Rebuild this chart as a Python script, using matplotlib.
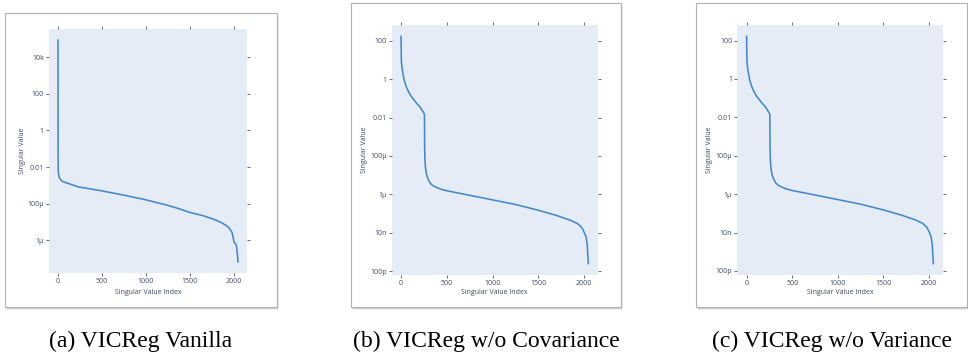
import numpy as np
import matplotlib.pyplot as plt
from matplotlib.patches import Rectangle
from matplotlib.ticker import FixedLocator, FuncFormatter

# ---------------------------------------------------------------- data
vanilla_idx = [0, 1, 3, 8, 20, 45, 100, 233, 480, 750, 990, 1250, 1380, 1500, 1650,
               1760, 1850, 1910, 1950, 1980, 2002, 2015, 2028, 2035, 2043, 2047]
vanilla_sv = [8.8e4, 0.05, 0.006, 0.0035, 0.0024, 0.0017, 0.00135, 8.2e-4, 5.2e-4, 2.9e-4,
              1.66e-4, 8e-5, 5.2e-5, 3.3e-5, 2.2e-5, 1.46e-5, 9.6e-6, 6.5e-6, 4.5e-6, 2.6e-6,
              8e-7, 6.5e-7, 5.5e-7, 3e-7, 1.2e-7, 6.5e-8]

nocov_idx = [0, 1, 3, 6, 12, 20, 33, 55, 80, 105, 135, 170, 208, 235, 250, 255, 256, 257,
             258, 262, 268, 280, 300, 320, 345, 380, 430, 499, 750, 1009, 1250, 1501, 1700,
             1847, 1930, 1975, 2000, 2022, 2035, 2040, 2047]
nocov_sv = [168, 40, 10, 6, 3.5, 2, 0.92, 0.42, 0.23, 0.14, 0.091, 0.055, 0.035, 0.022,
            0.017, 0.0145, 0.01, 0.001, 2e-4, 5e-5, 2.2e-5, 1e-5, 5.5e-6, 3.8e-6, 2.9e-6,
            2.4e-6, 1.9e-6, 1.55e-6, 9e-7, 5.1e-7, 3e-7, 1.5e-7, 8e-8, 4.6e-8, 3e-8, 1.9e-8,
            1.1e-8, 6.2e-9, 2.5e-9, 8.5e-10, 2.5e-10]

novar_idx = [0, 1, 3, 6, 12, 20, 33, 55, 80, 105, 135, 170, 208, 235, 250, 254, 255, 256,
             257, 261, 267, 279, 300, 320, 345, 380, 430, 499, 750, 1009, 1250, 1501, 1700,
             1847, 1930, 1975, 2000, 2022, 2035, 2040, 2047]
novar_sv = [165, 40, 10, 6, 3.4, 2, 0.9, 0.41, 0.22, 0.135, 0.088, 0.054, 0.034, 0.021,
            0.016, 0.014, 0.01, 0.001, 2e-4, 5e-5, 2.2e-5, 1e-5, 5.5e-6, 3.8e-6, 2.9e-6,
            2.4e-6, 1.9e-6, 1.55e-6, 9e-7, 5.1e-7, 3e-7, 1.5e-7, 8e-8, 4.6e-8, 3e-8, 1.9e-8,
            1.1e-8, 6e-9, 2.4e-9, 8e-10, 2.4e-10]

captions = ["(a) VICReg Vanilla", "(b) VICReg w/o Covariance", "(c) VICReg w/o Variance"]
tick_names = {4: "10k", 2: "100", 0: "1", -2: "0.01", -4: "100\u00b5", -6: "1\u00b5",
              -8: "10n", -10: "100p"}

# ---------------------------------------------------------------- layout (pixels)
W, H = 968, 352
frames = [(5, 13, 277, 307), (351, 3, 621, 307), (696, 3, 967, 307)]
plots = [(49, 29, 247, 273), (391.7, 25, 597.7, 275), (737.3, 25, 942.7, 275)]
ylab_px = [26, 368, 713]
series = [(vanilla_idx, vanilla_sv), (nocov_idx, nocov_sv), (novar_idx, novar_sv)]

plt.rcParams['font.family'] = ['Open Sans', 'DejaVu Sans']
fig = plt.figure(figsize=(W / 100, H / 100), dpi=100)

def fx(px):
    return px / W

def fy(py):
    return 1 - py / H

def fmt(v, pos):
    e = int(round(np.log10(v)))
    return tick_names.get(e, "")

for k in range(3):
    x0, y0, x1, y1 = frames[k]
    # soft shadow, then the white card
    for off, a in [(3, 0.10), (2, 0.18), (1, 0.28)]:
        fig.add_artist(Rectangle((fx(x0 + off * 0.5), fy(y1 + off)), fx(x1 - x0), (y1 - y0) / H,
                                 transform=fig.transFigure, facecolor='#555555', alpha=a,
                                 edgecolor='none', zorder=-3))
    fig.add_artist(Rectangle((fx(x0), fy(y1)), fx(x1 - x0), (y1 - y0) / H,
                             transform=fig.transFigure, facecolor='white',
                             edgecolor='#b0b0b0', linewidth=0.8, zorder=-2))

    px0, py0, px1, py1 = plots[k]
    ax = fig.add_axes([fx(px0), fy(py1), fx(px1 - px0), (py1 - py0) / H])
    ax.set_facecolor('#e5ecf6')
    idx, sv = series[k]
    ax.plot(idx, sv, color='#4189cc', linewidth=1.15)
    ax.set_yscale('log')
    ax.margins(x=0.05, y=0.05)
    ax.yaxis.set_major_locator(FixedLocator([10.0 ** e for e in range(-10, 6, 2)]))
    ax.yaxis.set_major_formatter(FuncFormatter(fmt))
    ax.yaxis.set_minor_locator(FixedLocator([]))
    ax.set_xticks([0, 500, 1000, 1500, 2000])
    for s in ax.spines.values():
        s.set_visible(False)
    ax.tick_params(which='both', direction='out', length=2.2, width=0.6, color='#555555',
                   top=True, right=True, labelsize=5, labelcolor='#3b4b68', pad=1.5)
    ax.set_xlabel("Singular Value Index", fontsize=5, color='#3b4b68')
    ax.set_ylabel("Singular Value", fontsize=5, color='#3b4b68')
    ax.xaxis.set_label_coords(0.5, -(289 - py1) / (py1 - py0))
    ax.yaxis.set_label_coords((ylab_px[k] - px0) / (px1 - px0), 0.5)

    fig.text(fx((x0 + x1) / 2), fy(346.5), captions[k], ha='center', va='baseline',
             fontsize=17, family='Liberation Serif', color='black')

fig.savefig("out.png", dpi=100)
